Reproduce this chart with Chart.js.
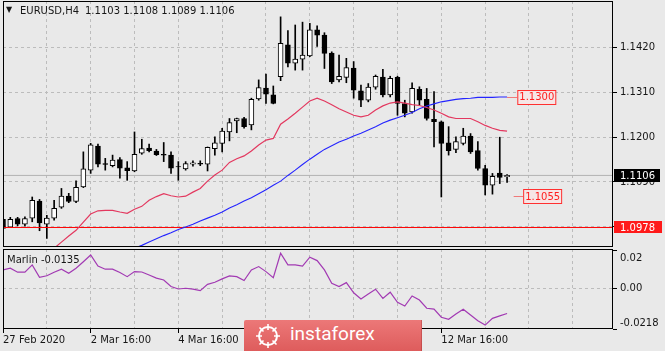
<!DOCTYPE html>
<html>
<head>
<meta charset="utf-8">
<script src="https://cdn.jsdelivr.net/npm/chart.js@4.4.1/dist/chart.umd.min.js"></script>
<style>
  html, body { margin: 0; padding: 0; background: #e9e9e9; }
  #wrap { position: relative; width: 665px; height: 351px; overflow: hidden; background: #e9e9e9; }
  #price { position: absolute; left: 0; top: 0; }
  #osc { position: absolute; left: 0; top: 248px; }
  #logo {
    position: absolute; left: 244px; top: 320px; width: 178px; height: 31px;
    background: linear-gradient(#ec7878, #de5c5c);
    border-top-left-radius: 2px;
    box-shadow: inset -1px 0 0 rgba(150, 40, 40, 0.35);
  }
  #logo span {
    position: absolute; left: 46px; top: 4px;
    font: 19px Roboto, sans-serif; line-height: 1; color: #fff;
  }
  #logo svg { position: absolute; left: 10px; top: 3px; }
</style>
</head>
<body>
<div id="wrap">
  <canvas id="price" width="665" height="248"></canvas>
  <canvas id="osc" width="665" height="103"></canvas>
  <div id="logo">
    <svg width="28" height="26" viewBox="0 0 28 26">
      <circle cx="14" cy="13" r="9" fill="none" stroke="#fff" stroke-width="2"/>
      <path d="M14 1v6M14 19v6M2 13h6M20 13h6M5.5 4.5l4 4M18.5 17.5l4 4M22.5 4.5l-4 4M9.5 17.5l-4 4" stroke="#fff" stroke-width="1.6"/>
    </svg>
    <span>instaforex</span>
  </div>
</div>
<script>
// EURUSD H4 (one entry per bar)
const opens = [
  1.0998, 1.0979, 1.1000, 1.0986, 1.1001, 1.1043, 1.0986, 1.1001, 1.1028, 1.1055,
  1.1042, 1.1078, 1.1119, 1.1178, 1.1135, 1.1130, 1.1145, 1.1125, 1.1117, 1.1161,
  1.1173, 1.1166, 1.1158, 1.1156, 1.1128, 1.1122, 1.1134, 1.1136, 1.1134, 1.1172,
  1.1185, 1.1213, 1.1240, 1.1246, 1.1230, 1.1294, 1.1321, 1.1304, 1.1349, 1.1427,
  1.1382, 1.1392, 1.1400, 1.1464, 1.1451, 1.1407, 1.1341, 1.1347, 1.1370, 1.1314,
  1.1291, 1.1323, 1.1348, 1.1304, 1.1347, 1.1283, 1.1262, 1.1318, 1.1293, 1.1244,
  1.1238, 1.1186, 1.1170, 1.1185, 1.1203, 1.1167, 1.1123, 1.1082, 1.1112, 1.1103
];
const highs = [
  1.1006, 1.1003, 1.1003, 1.1004, 1.1053, 1.1047, 1.1008, 1.1045, 1.1074, 1.1062,
  1.1093, 1.1164, 1.1185, 1.1183, 1.1148, 1.1156, 1.1150, 1.1140, 1.1213, 1.1195,
  1.1183, 1.1170, 1.1187, 1.1164, 1.1140, 1.1140, 1.1142, 1.1142, 1.1176, 1.1201,
  1.1222, 1.1246, 1.1247, 1.1249, 1.1296, 1.1341, 1.1355, 1.1326, 1.1496, 1.1462,
  1.1476, 1.1483, 1.1480, 1.1474, 1.1457, 1.1410, 1.1402, 1.1394, 1.1386, 1.1328,
  1.1332, 1.1353, 1.1367, 1.1350, 1.1350, 1.1291, 1.1334, 1.1324, 1.1320, 1.1312,
  1.1240, 1.1226, 1.1201, 1.1222, 1.1209, 1.1189, 1.1131, 1.1111, 1.1200, 1.1108
];
const lows = [
  1.0964, 1.0978, 1.0982, 1.0981, 1.0992, 1.0970, 1.0951, 1.0996, 1.1025, 1.1039,
  1.1039, 1.1076, 1.1111, 1.1127, 1.1119, 1.1127, 1.1099, 1.1094, 1.1115, 1.1158,
  1.1164, 1.1155, 1.1140, 1.1111, 1.1094, 1.1119, 1.1129, 1.1130, 1.1117, 1.1156,
  1.1164, 1.1191, 1.1211, 1.1222, 1.1218, 1.1291, 1.1283, 1.1282, 1.1339, 1.1373,
  1.1365, 1.1365, 1.1398, 1.1423, 1.1369, 1.1332, 1.1336, 1.1334, 1.1296, 1.1275,
  1.1287, 1.1318, 1.1299, 1.1299, 1.1254, 1.1250, 1.1259, 1.1279, 1.1242, 1.1176,
  1.1053, 1.1156, 1.1162, 1.1181, 1.1160, 1.1119, 1.1058, 1.1060, 1.1086, 1.1089
];
const closes = [
  1.0976, 1.0998, 1.0986, 1.1000, 1.1045, 1.0989, 1.1001, 1.1025, 1.1055, 1.1042,
  1.1077, 1.1122, 1.1181, 1.1134, 1.1133, 1.1144, 1.1124, 1.1118, 1.1158, 1.1172,
  1.1167, 1.1157, 1.1156, 1.1124, 1.1127, 1.1135, 1.1137, 1.1134, 1.1175, 1.1186,
  1.1215, 1.1236, 1.1246, 1.1226, 1.1293, 1.1322, 1.1306, 1.1283, 1.1431, 1.1382,
  1.1392, 1.1402, 1.1464, 1.1451, 1.1406, 1.1336, 1.1350, 1.1371, 1.1316, 1.1291,
  1.1323, 1.1350, 1.1304, 1.1345, 1.1283, 1.1259, 1.1320, 1.1291, 1.1246, 1.1238,
  1.1185, 1.1167, 1.1189, 1.1203, 1.1164, 1.1123, 1.1082, 1.1104, 1.1101, 1.1106
];
// moving averages (red = fast, blue = slow)
const maFast = [
  null, null, null, null, null, null, 1.0910, 1.0927, 1.0942, 1.0957,
  1.0971, 1.0991, 1.1011, 1.1019, 1.1020, 1.1020, 1.1016, 1.1013, 1.1023, 1.1030,
  1.1045, 1.1054, 1.1061, 1.1056, 1.1053, 1.1055, 1.1065, 1.1074, 1.1092, 1.1107,
  1.1119, 1.1138, 1.1147, 1.1154, 1.1166, 1.1181, 1.1193, 1.1197, 1.1232, 1.1245,
  1.1259, 1.1274, 1.1289, 1.1296, 1.1289, 1.1280, 1.1270, 1.1262, 1.1254, 1.1250,
  1.1254, 1.1267, 1.1277, 1.1284, 1.1287, 1.1284, 1.1280, 1.1278, 1.1273, 1.1267,
  1.1259, 1.1250, 1.1246, 1.1246, 1.1246, 1.1238, 1.1229, 1.1222, 1.1217, 1.1215
];
const maSlow = [
  null, null, null, null, null, null, null, null, null, null,
  null, null, null, null, null, null, null, 1.0920, 1.0927, 1.0934,
  1.0942, 1.0950, 1.0958, 1.0965, 1.0973, 1.0979, 1.0986, 1.0994, 1.1001, 1.1008,
  1.1016, 1.1026, 1.1034, 1.1043, 1.1051, 1.1061, 1.1071, 1.1082, 1.1092, 1.1106,
  1.1119, 1.1133, 1.1146, 1.1158, 1.1170, 1.1179, 1.1188, 1.1195, 1.1203, 1.1210,
  1.1218, 1.1226, 1.1235, 1.1242, 1.1248, 1.1254, 1.1261, 1.1270, 1.1277, 1.1282,
  1.1287, 1.1290, 1.1293, 1.1295, 1.1296, 1.1298, 1.1298, 1.1298, 1.1299, 1.1299
];
// Marlin oscillator (lower pane)
const marlin = [
  0.0098, 0.0107, 0.0086, 0.0086, 0.0125, 0.0059, 0.0067, 0.0086, 0.0102, 0.0080,
  0.0107, 0.0142, 0.0178, 0.0119, 0.0102, 0.0102, 0.0084, 0.0062, 0.0089, 0.0087,
  0.0071, 0.0054, 0.0044, 0.0009, -0.0004, 0.0000, -0.0005, -0.0013, 0.0021, 0.0032,
  0.0050, 0.0066, 0.0062, 0.0041, 0.0098, 0.0116, 0.0089, 0.0057, 0.0187, 0.0125,
  0.0125, 0.0119, 0.0166, 0.0148, 0.0098, 0.0027, 0.0009, 0.0030, -0.0024, -0.0057,
  -0.0031, -0.0005, -0.0054, -0.0021, -0.0075, -0.0095, -0.0041, -0.0063, -0.0107, -0.0112,
  -0.0155, -0.0166, -0.0138, -0.0112, -0.0143, -0.0174, -0.0197, -0.0161, -0.0148, -0.0135
];

const priceTicks = [1.1420, 1.1310, 1.1200, 1.1090, 1.0980];
const marlinTicks = [0.02, 0.00, -0.0218];
const timeTickIdx = [0, 12, 24, 36, 48, 60];
const timeTickLabels = ['27 Feb 2020', '2 Mar 16:00', '4 Mar 16:00', '6 Mar 16:00', '10 Mar 16:00', '12 Mar 16:00'];

const bidPrice = 1.1106;
const levelPrice = 1.0978;
const tagPrices = [1.1300, 1.1055];

// view window
const xMin = 0, xMax = 83.5;
const priceMin = 1.0930, priceMax = 1.1535;
const marlinMin = -0.0218, marlinMax = 0.0210;
const gridStep = 6;

const FONT = '10px "DejaVu Sans"';
const TEXT = '#161616';
const GRID = '#bcbcbc';

const last = opens.length - 1;
const bars = opens.map((_, i) => i);
const gridIdx = [];
for (let v = xMin; v <= xMax; v += gridStep) gridIdx.push(v);

// chart.js reserves room for half a label above/below the axis ends; MT4 doesn't
function noPad(s) {
  s.paddingTop = 0; s.paddingBottom = 0; s.paddingLeft = 0; s.paddingRight = 0;
}

function drawFrame(chart) {
  const { ctx, chartArea: a } = chart;
  ctx.save();
  ctx.strokeStyle = '#000';
  ctx.lineWidth = 1;
  ctx.strokeRect(a.left + 0.5, a.top + 0.5, a.right - a.left - 1, a.bottom - a.top - 1);
  ctx.restore();
}

// small price tags drawn at the end of the MA / at the target level
function drawTag(ctx, x0, x1, y, text) {
  ctx.strokeStyle = '#f07a7a';
  ctx.lineWidth = 1;
  ctx.beginPath();
  ctx.moveTo(x0, Math.round(y) + 0.5);
  ctx.lineTo(x1, Math.round(y) + 0.5);
  ctx.stroke();
  const w = ctx.measureText(text).width + 3;
  ctx.fillStyle = '#f6e6e6';
  ctx.fillRect(x1, Math.round(y) - 7, w, 15);
  ctx.strokeStyle = '#ff3030';
  ctx.strokeRect(x1 + 0.5, Math.round(y) - 6.5, w, 14);
  ctx.fillStyle = '#ff1e1e';
  ctx.fillText(text, x1 + 2, y + 1);
}

function axisBox(ctx, x, y, w, h, fill, text) {
  ctx.fillStyle = fill;
  ctx.fillRect(x, Math.round(y - h / 2), w, h);
  ctx.fillStyle = '#fff';
  ctx.fillText(text, x + 6, y + 0.5);
}

const priceOverlay = {
  id: 'priceOverlay',
  afterDatasetsDraw(chart) {
    const { ctx, scales: { x, y } } = chart;
    drawFrame(chart);
    ctx.save();
    ctx.font = FONT;
    ctx.textBaseline = 'middle';
    drawTag(ctx, x.getPixelForValue(last), x.getPixelForValue(last + 1.4), y.getPixelForValue(tagPrices[0]), tagPrices[0].toFixed(4));
    drawTag(ctx, x.getPixelForValue(last + 0.9), x.getPixelForValue(last + 2.2), y.getPixelForValue(tagPrices[1]), tagPrices[1].toFixed(4));
    axisBox(ctx, 614, y.getPixelForValue(bidPrice), 46, 13, '#000', bidPrice.toFixed(4));
    axisBox(ctx, 614, y.getPixelForValue(levelPrice), 48, 12, '#ff1a1a', levelPrice.toFixed(4));
    // title
    ctx.fillStyle = TEXT;
    ctx.font = '8px "DejaVu Sans"';
    ctx.fillText('\u25BC', 6, 10);
    ctx.font = FONT;
    ctx.fillText('EURUSD,H4', 20, 11);
    ctx.fillText([opens[last], highs[last], lows[last], closes[last]].map(v => v.toFixed(4)).join(' '), 85, 11);
    ctx.restore();
  }
};

const oscOverlay = {
  id: 'oscOverlay',
  afterDatasetsDraw(chart) {
    const { ctx, chartArea: a } = chart;
    drawFrame(chart);
    ctx.save();
    ctx.font = FONT;
    ctx.fillStyle = TEXT;
    ctx.textBaseline = 'alphabetic';
    ctx.fillText('Marlin ' + marlin[last].toFixed(4), 7, a.top + 14);
    ctx.fillText(marlinTicks[0].toFixed(2), a.right + 7, a.top + 12);
    ctx.fillText(marlinTicks[2].toFixed(4), a.right + 7, a.bottom - 3.5);
    ctx.restore();
  }
};

new Chart(document.getElementById('price'), {
  type: 'bar',
  data: {
    datasets: [
      {
        type: 'line', label: 'MA fast', order: 1,
        data: bars.map(i => ({ x: i, y: maFast[i] })),
        borderColor: '#e3385f', borderWidth: 1.2, pointRadius: 0
      },
      {
        type: 'line', label: 'MA slow', order: 1,
        data: bars.map(i => ({ x: i, y: maSlow[i] })),
        borderColor: '#2424ff', borderWidth: 1.1, pointRadius: 0
      },
      {
        type: 'line', label: 'level', order: 1,
        data: [{ x: xMin, y: levelPrice }, { x: xMax, y: levelPrice }],
        borderColor: '#ff0000', borderWidth: 1, pointRadius: 0
      },
      {
        type: 'line', label: 'bid', order: 5,
        data: [{ x: xMin, y: bidPrice }, { x: xMax, y: bidPrice }],
        borderColor: '#b2b2b2', borderWidth: 1, pointRadius: 0
      },
      {
        label: 'wicks', order: 3, grouped: false,
        data: bars.map(i => ({ x: i, y: [lows[i], highs[i]] })),
        backgroundColor: '#000', barThickness: 1
      },
      {
        label: 'bodies', order: 2, grouped: false,
        data: bars.map(i => ({ x: i, y: [opens[i], closes[i]] })),
        backgroundColor: c => closes[c.dataIndex] >= opens[c.dataIndex] ? '#fff' : '#000',
        borderColor: '#000', borderWidth: 1, borderSkipped: false, barThickness: 5
      }
    ]
  },
  options: {
    responsive: false,
    animation: false,
    events: [],
    layout: { padding: { left: 3, top: 1, right: 0, bottom: 1 } },
    plugins: { legend: { display: false }, tooltip: { enabled: false } },
    scales: {
      x: {
        type: 'linear', min: xMin, max: xMax, offset: false,
        ticks: { display: false },
        grid: { color: GRID, drawTicks: false, offset: false },
        border: { display: false, dash: [3, 3] },
        afterBuildTicks: s => { s.ticks = gridIdx.map(v => ({ value: v })); },
        afterFit: s => { s.height = 0; noPad(s); }
      },
      y: {
        position: 'right', min: priceMin, max: priceMax,
        ticks: { font: { family: 'DejaVu Sans', size: 10 }, color: TEXT, padding: 3, callback: v => v.toFixed(4) },
        grid: { color: GRID, tickColor: '#000', tickLength: 4, tickBorderDash: [4, 0] },
        border: { display: false, dash: [3, 3] },
        afterBuildTicks: s => { s.ticks = priceTicks.map(v => ({ value: v })); },
        afterFit: s => { s.width = 52; noPad(s); }
      }
    }
  },
  plugins: [priceOverlay]
});

new Chart(document.getElementById('osc'), {
  type: 'line',
  data: {
    datasets: [{
      label: 'Marlin',
      data: bars.map(i => ({ x: i, y: marlin[i] })),
      borderColor: '#a23ab3', borderWidth: 1.2, pointRadius: 0
    }]
  },
  options: {
    responsive: false,
    animation: false,
    events: [],
    layout: { padding: { left: 3, top: 1, right: 0, bottom: 0 } },
    plugins: { legend: { display: false }, tooltip: { enabled: false } },
    scales: {
      x: {
        type: 'linear', min: xMin, max: xMax, offset: false,
        ticks: {
          font: { family: 'DejaVu Sans', size: 10 }, color: TEXT, align: 'start', padding: 1,
          autoSkip: false, maxRotation: 0,
          callback: v => { const k = timeTickIdx.indexOf(v); return k < 0 ? '' : timeTickLabels[k]; }
        },
        grid: {
          color: GRID, tickLength: 4, tickBorderDash: [4, 0],
          tickColor: c => (c.tick && timeTickIdx.includes(c.tick.value)) ? '#000' : 'rgba(0,0,0,0)'
        },
        border: { display: false, dash: [3, 3] },
        afterBuildTicks: s => { s.ticks = gridIdx.map(v => ({ value: v })); },
        afterFit: s => { s.height = 22; noPad(s); }
      },
      y: {
        position: 'right', min: marlinMin, max: marlinMax,
        ticks: { font: { family: 'DejaVu Sans', size: 10 }, color: TEXT, padding: 3, callback: v => v === 0 ? '0.00' : '' },
        grid: {
          color: c => (c.tick && c.tick.value === 0) ? GRID : 'rgba(0,0,0,0)',
          tickColor: '#000', tickLength: 4, tickBorderDash: [4, 0]
        },
        border: { display: false, dash: [3, 3] },
        afterBuildTicks: s => { s.ticks = marlinTicks.map(v => ({ value: v })); },
        afterFit: s => { s.width = 52; noPad(s); }
      }
    }
  },
  plugins: [oscOverlay]
});
</script>
</body>
</html>
